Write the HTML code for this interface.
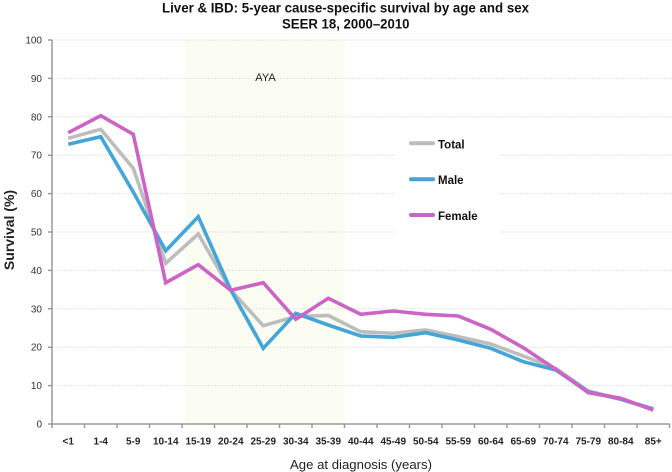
<!DOCTYPE html>
<html><head><meta charset="utf-8"><style>
html,body{margin:0;padding:0;background:#fff;}
svg{display:block;font-family:"Liberation Sans",Arial,sans-serif;}
</style></head><body>
<svg width="672" height="472" viewBox="0 0 672 472" xmlns="http://www.w3.org/2000/svg">
<rect width="672" height="472" fill="#fff"/>
<!-- AYA band -->
<rect x="185" y="40" width="160" height="384" fill="#fcfdf2"/>
<!-- gridlines -->
<g stroke="#e4e4e4" stroke-width="1" stroke-dasharray="2,1">
<line x1="52" y1="40" x2="672" y2="40"/>
<line x1="52" y1="78.4" x2="672" y2="78.4"/>
<line x1="52" y1="116.8" x2="672" y2="116.8"/>
<line x1="52" y1="155.2" x2="672" y2="155.2"/>
<line x1="52" y1="193.6" x2="672" y2="193.6"/>
<line x1="52" y1="232" x2="672" y2="232"/>
<line x1="52" y1="270.4" x2="672" y2="270.4"/>
<line x1="52" y1="308.8" x2="672" y2="308.8"/>
<line x1="52" y1="347.2" x2="672" y2="347.2"/>
<line x1="52" y1="385.6" x2="672" y2="385.6"/>
</g>
<!-- legend background -->
<rect x="395" y="125" width="103" height="111" fill="#fff"/>
<text x="265.5" y="81" font-size="11" text-anchor="middle" fill="#222">AYA</text>
<!-- axes -->
<g stroke="#9a9a9a" stroke-width="1.5" fill="none">
<line x1="52" y1="40" x2="52" y2="424.7"/>
<line x1="51.3" y1="424" x2="670" y2="424"/>
<path d="M48 40H52M48 78.4H52M48 116.8H52M48 155.2H52M48 193.6H52M48 232H52M48 270.4H52M48 308.8H52M48 347.2H52M48 385.6H52M48 424H52"/>
<path d="M52 424V428M84.5 424V428M117 424V428M149.5 424V428M182 424V428M214.5 424V428M247 424V428M279.5 424V428M312 424V428M344.5 424V428M377 424V428M409.5 424V428M442 424V428M474.5 424V428M507 424V428M539.5 424V428M572 424V428M604.5 424V428M637 424V428M669.5 424V428"/>
</g>
<!-- y tick labels -->
<g font-size="10" fill="#333" text-anchor="end">
<text x="42" y="43.5">100</text>
<text x="42" y="81.9">90</text>
<text x="42" y="120.3">80</text>
<text x="42" y="158.7">70</text>
<text x="42" y="197.1">60</text>
<text x="42" y="235.5">50</text>
<text x="42" y="273.9">40</text>
<text x="42" y="312.3">30</text>
<text x="42" y="350.7">20</text>
<text x="42" y="389.1">10</text>
<text x="42" y="427.5">0</text>
</g>
<!-- x tick labels -->
<g font-size="10" font-weight="bold" fill="#222" text-anchor="middle">
<text x="68.25" y="444.5">&lt;1</text>
<text x="100.75" y="444.5">1-4</text>
<text x="133.25" y="444.5">5-9</text>
<text x="165.75" y="444.5">10-14</text>
<text x="198.25" y="444.5">15-19</text>
<text x="230.75" y="444.5">20-24</text>
<text x="263.25" y="444.5">25-29</text>
<text x="295.75" y="444.5">30-34</text>
<text x="328.25" y="444.5">35-39</text>
<text x="360.75" y="444.5">40-44</text>
<text x="393.25" y="444.5">45-49</text>
<text x="425.75" y="444.5">50-54</text>
<text x="458.25" y="444.5">55-59</text>
<text x="490.75" y="444.5">60-64</text>
<text x="523.25" y="444.5">65-69</text>
<text x="555.75" y="444.5">70-74</text>
<text x="588.25" y="444.5">75-79</text>
<text x="620.75" y="444.5">80-84</text>
<text x="653.25" y="444.5">85+</text>
</g>
<!-- axis titles -->
<text x="361" y="469" font-size="13" fill="#222" text-anchor="middle" textLength="142" lengthAdjust="spacingAndGlyphs">Age at diagnosis (years)</text>
<text transform="translate(14,230) rotate(-90)" font-size="14" font-weight="bold" fill="#222" text-anchor="middle">Survival (%)</text>
<!-- title -->
<text x="162" y="12.5" font-size="13.5" font-weight="bold" fill="#111" textLength="367" lengthAdjust="spacingAndGlyphs">Liver &amp; IBD: 5-year cause-specific survival by age and sex</text>
<text x="282" y="28.3" font-size="13.5" font-weight="bold" fill="#111" textLength="127.5" lengthAdjust="spacingAndGlyphs">SEER 18, 2000–2010</text>
<!-- series -->
<g fill="none" stroke-width="3.6" stroke-linejoin="miter" stroke-linecap="butt">
<polyline stroke="#bdbdbd" points="68.25,138.3 100.75,129.3 133.25,168.3 165.75,263.3 198.25,234 230.75,290 263.25,325.7 295.75,316.5 328.25,315.5 360.75,331.7 393.25,333.3 425.75,330 458.25,336.7 490.75,344 523.25,356 555.75,368.3 588.25,391 620.75,399 653.25,409"/>
<polyline stroke="#43a5d8" points="68.25,144.3 100.75,136.7 133.25,192 165.75,250.7 198.25,216.7 230.75,290 263.25,348.3 295.75,313.3 328.25,325 360.75,336 393.25,337.3 425.75,332.7 458.25,340 490.75,348.3 523.25,361.7 555.75,370 588.25,391.7 620.75,399.3 653.25,409"/>
<polyline stroke="#cc64c6" points="68.25,132.7 100.75,115.7 133.25,134.3 165.75,282.7 198.25,264.7 230.75,290.3 263.25,282.7 295.75,319.3 328.25,298.3 360.75,314.3 393.25,311 425.75,314.3 458.25,316 490.75,329.3 523.25,347.7 555.75,369.3 588.25,392.7 620.75,398.3 653.25,410"/>
</g>
<!-- legend -->
<g stroke-width="4" stroke-linecap="round">
<line x1="411" y1="143.3" x2="433" y2="143.3" stroke="#bdbdbd"/>
<line x1="411" y1="179.3" x2="433" y2="179.3" stroke="#43a5d8"/>
<line x1="411" y1="215" x2="433" y2="215" stroke="#cc64c6"/>
</g>
<g font-size="11.5" font-weight="bold" fill="#111">
<text x="438" y="148.3">Total</text>
<text x="438" y="184">Male</text>
<text x="438" y="220">Female</text>
</g>
</svg>
</body></html>
